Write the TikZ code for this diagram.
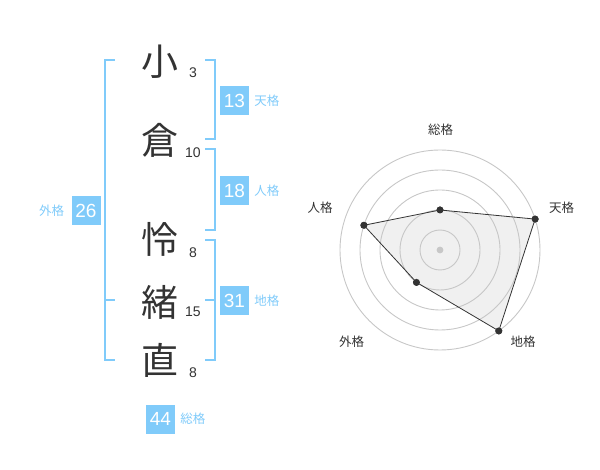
\documentclass[tikz,border=0pt]{standalone}
\usepackage{fontspec}
\setmainfont{Liberation Sans}
\newfontfamily\jpfont{Noto Sans CJK JP}
\usetikzlibrary{positioning}
\definecolor{kakublue}{RGB}{128,203,250}
\definecolor{inkgray}{RGB}{51,51,51}
\begin{document}
\begin{tikzpicture}[
  x=1pt, y=-1pt,
  kanji/.style={text=inkgray, inner sep=0pt, font=\jpfont\fontsize{37}{37}\selectfont},
  strokes/.style={text=inkgray, inner sep=0pt, font=\fontsize{14}{14}\selectfont},
  kakubox/.style={fill=kakublue, text=white, minimum size=29pt, inner sep=0pt, font=\fontsize{19}{19}\selectfont},
  kakuname/.style={text=kakublue, inner sep=0pt, font=\jpfont\fontsize{12.5}{12.5}\selectfont},
  bracket/.style={draw=kakublue, line width=2pt},
  ring/.style={draw=black!22, line width=0.9pt},
  axisname/.style={text=inkgray, inner sep=0pt, font=\jpfont\fontsize{12.5}{12.5}\selectfont},
  score/.style={circle, fill=inkgray, inner sep=0pt, minimum size=7pt}
]
\useasboundingbox (0,0) rectangle (600,470);

\node[kanji] (k1) at (160,62) {小};
\node[kanji] (k2) at (160,140) {倉};
\node[kanji] (k3) at (160,239) {怜};
\node[kanji] (k4) at (160,302) {緒};
\node[kanji] (k5) at (160,360) {直};
\node[strokes] (n1) at (193,73) {3};
\node[strokes] (n2) at (193,153) {10};
\node[strokes] (n3) at (193,253) {8};
\node[strokes] (n4) at (193,312) {15};
\node[strokes] (n5) at (193,373) {8};

\draw[bracket] (115,60) -- (105,60) -- (105,360) -- (115,360);
\draw[bracket] (105,300) -- (115,300);
\draw[bracket] (205,60) -- (215,60) -- (215,139.3) -- (205,139.3);
\draw[bracket] (205,149.3) -- (215,149.3) -- (215,230) -- (205,230);
\draw[bracket] (205,240) -- (215,240) -- (215,360) -- (205,360);
\draw[bracket] (205,300) -- (215,300);

\node[kakubox] (ten) at (234.5,100.5) {13};
\node[kakuname, right=5pt of ten] (tenname) {天格};
\node[kakubox] (jin) at (234.5,190.5) {18};
\node[kakuname, right=5pt of jin] (jinname) {人格};
\node[kakubox] (chi) at (234.5,300.5) {31};
\node[kakuname, right=5pt of chi] (chiname) {地格};
\node[kakubox] (gai) at (86,211) {26};
\node[kakuname, left=7pt of gai] (gainame) {外格};
\node[kakubox] (sou) at (160.5,419) {44};
\node[kakuname, right=5pt of sou] (souname) {総格};

\begin{scope}[shift={(440,250)}, y=1pt]
  \node[score] (p1) at (90:40) {};
  \node[score] (p2) at (18:100) {};
  \node[score] (p3) at (-54:100) {};
  \node[score] (p4) at (-126:40) {};
  \node[score] (p5) at (162:80) {};
  \fill[black!6] (p1.center) -- (p2.center) -- (p3.center) -- (p4.center) -- (p5.center) -- cycle;
  \foreach \r in {20,40,...,100}
    \draw[ring] (0,0) circle (\r pt);
  \fill[black!22] (0,0) circle (3.4pt);
  \draw[inkgray, line width=0.8pt] (p1.center) -- (p2.center) -- (p3.center) -- (p4.center) -- (p5.center) -- cycle;
  \foreach \p in {p1,p2,p3,p4,p5}
    \fill[inkgray] (\p) circle (3.5pt);
  \node[axisname] (a1) at (0.7,120) {総格};
  \node[axisname] (a2) at (121.7,42) {天格};
  \node[axisname] (a3) at (83,-91.7) {地格};
  \node[axisname] (a4) at (-88.3,-91.7) {外格};
  \node[axisname] (a5) at (-120,42) {人格};
\end{scope}
\end{tikzpicture}
\end{document}
